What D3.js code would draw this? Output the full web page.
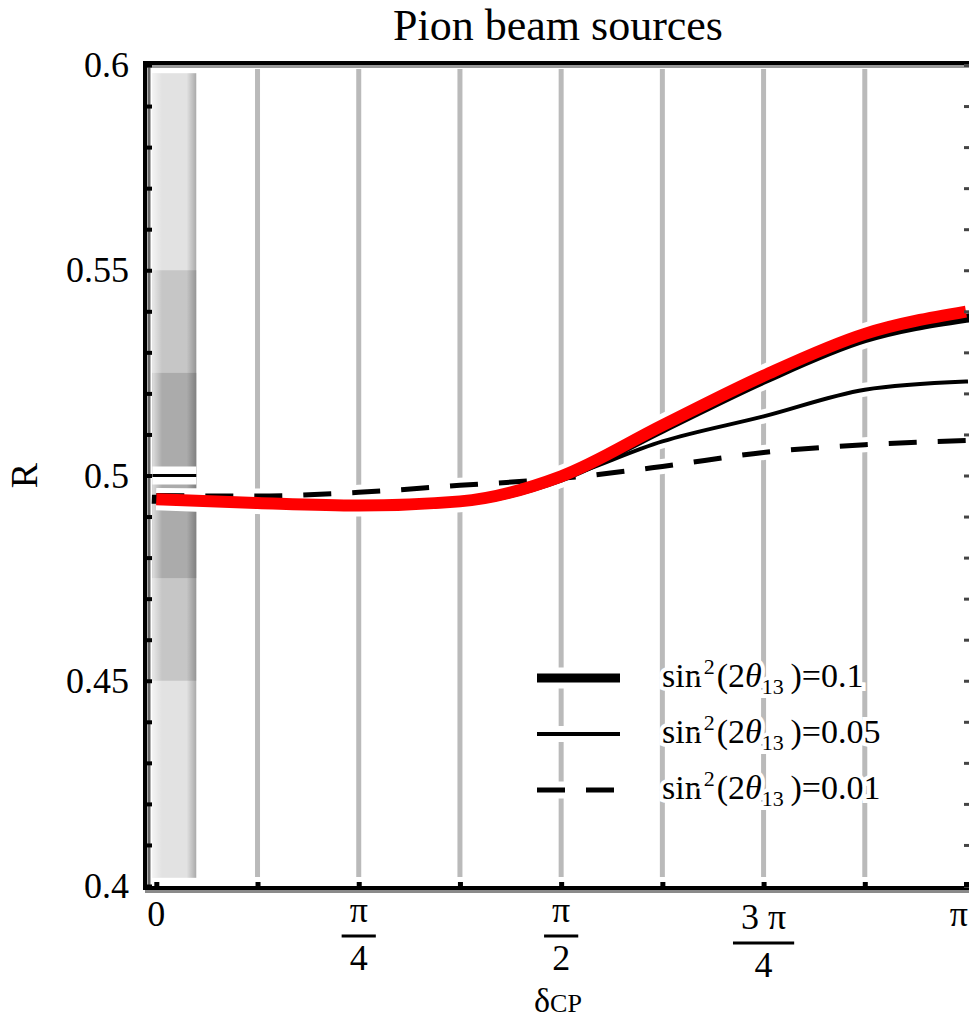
<!DOCTYPE html>
<html>
<head>
<meta charset="utf-8">
<script src="https://d3js.org/d3.v7.min.js"></script>
<style>
    body { margin: 0; background: white; }
    text { font-family: "Liberation Serif", "Times New Roman", serif; fill: black; }
</style>
</head>
<body>
<svg id="chart" width="969" height="1021"></svg>

<script>
    // delta_CP sample points, in units of pi/8
    var steps = [0, 1, 2, 3, 4, 5, 6, 7, 8]

    // R at each step
    var rThick  = [0.4942, 0.4933, 0.4927, 0.4936, 0.4994, 0.5113, 0.5232, 0.5333, 0.5383]
    var rThin   = [0.4942, 0.4933, 0.4928, 0.4938, 0.4993, 0.5083, 0.5144, 0.5209, 0.5229]
    var rDashed = [0.4951, 0.4950, 0.4959, 0.4976, 0.4993, 0.5022, 0.5056, 0.5075, 0.5085]
    var rRed    = [0.4942, 0.4933, 0.4927, 0.4937, 0.4998, 0.5122, 0.5243, 0.5345, 0.5399]

    var legendValues = ["0.1", "0.05", "0.01"]

    // measured band at delta = 0
    var bandRanges = [[0.402, 0.598], [0.45, 0.55], [0.475, 0.525]]
    var bandShades = ["#e2e2e2", "#c6c6c6", "#ababab"]
    var bandCenter = 0.5
    var bandDelta = [-0.015, 0.155]

    var rMajorTicks = [0.4, 0.45, 0.5, 0.55, 0.6]
    var rLabels = ["0.4", "0.45", "0.5", "0.55", "0.6"]
    var deltaTickSteps = [0, 1, 2, 3, 4, 5, 6, 7, 8]
    var deltaLabelSteps = [0, 2, 4, 6, 8]
    var deltaLabelNum = ["0", "π", "π", "3 π", "π"]
    var deltaLabelDen = [null, "4", "2", "4", null]

    var W = 969, H = 1021
    var margin = { top: 65, right: 3, bottom: 135, left: 146 }

    var svg = d3.select("#chart")

    var x = d3.scaleLinear()
        .domain([-0.04, Math.PI])
        .range([margin.left, W - margin.right])

    var y = d3.scaleLinear()
        .domain([0.4, 0.6])
        .range([H - margin.bottom, margin.top])

    var x0 = x.range()[0], x1 = x.range()[1]
    var y0 = y.range()[0], y1 = y.range()[1]

    var defs = svg.append("defs")
    var grad = defs.append("linearGradient").attr("id", "bandShade")
        .attr("x1", 0).attr("x2", 1).attr("y1", 0).attr("y2", 0)
    grad.append("stop").attr("offset", "0%").attr("stop-color", "#fff").attr("stop-opacity", 0.6)
    grad.append("stop").attr("offset", "22%").attr("stop-color", "#fff").attr("stop-opacity", 0)
    grad.append("stop").attr("offset", "78%").attr("stop-color", "#000").attr("stop-opacity", 0)
    grad.append("stop").attr("offset", "100%").attr("stop-color", "#000").attr("stop-opacity", 0.25)

    // the band
    bandRanges.forEach(function(r, i) {
        svg.append("rect")
            .attr("x", x(bandDelta[0]))
            .attr("width", x(bandDelta[1]) - x(bandDelta[0]))
            .attr("y", y(r[1]))
            .attr("height", y(r[0]) - y(r[1]))
            .attr("fill", bandShades[i])
    })
    svg.append("rect")
        .attr("x", x(bandDelta[0]))
        .attr("width", x(bandDelta[1]) - x(bandDelta[0]))
        .attr("y", y(bandRanges[0][1]))
        .attr("height", y(bandRanges[0][0]) - y(bandRanges[0][1]))
        .attr("fill", "url(#bandShade)")

    // grid lines
    svg.append("g")
        .selectAll("line")
        .data(deltaTickSteps.slice(1, 8))
        .enter().append("line")
        .attr("x1", function(k) { return x(k * Math.PI / 8) })
        .attr("x2", function(k) { return x(k * Math.PI / 8) })
        .attr("y1", y1 + 4)
        .attr("y2", y0 - 9)
        .attr("stroke", "#bababa")
        .attr("stroke-width", 5)

    var series = [
        { values: rThick,  color: "black", width: 9, dash: null },
        { values: rThin,   color: "black", width: 4, dash: null },
        { values: rDashed, color: "black", width: 5, dash: "28,21" },
        { values: rRed,    color: "#ff0000", width: 12, dash: null }
    ]

    var line = d3.line()
        .x(function(d) { return x(d[0] * Math.PI / 8) })
        .y(function(d) { return y(d[1]) })
        .curve(d3.curveMonotoneX)

    // white halos first
    svg.append("line")
        .attr("x1", x(bandDelta[0])).attr("x2", x(bandDelta[1]))
        .attr("y1", y(bandCenter)).attr("y2", y(bandCenter))
        .attr("stroke", "white").attr("stroke-width", 18)
    series.forEach(function(s) {
        svg.append("path")
            .datum(steps.map(function(k, i) { return [k, s.values[i]] }))
            .attr("fill", "none")
            .attr("stroke", "white")
            .attr("stroke-width", s.width + 10)
            .attr("d", line)
    })

    svg.append("line")
        .attr("x1", x(bandDelta[0])).attr("x2", x(bandDelta[1]))
        .attr("y1", y(bandCenter)).attr("y2", y(bandCenter))
        .attr("stroke", "black").attr("stroke-width", 3)

    series.forEach(function(s) {
        svg.append("path")
            .datum(steps.map(function(k, i) { return [k, s.values[i]] }))
            .attr("fill", "none")
            .attr("stroke", s.color)
            .attr("stroke-width", s.width)
            .attr("stroke-dasharray", s.dash)
            .attr("stroke-linecap", s.color == "black" && !s.dash ? "square" : "butt")
            .attr("d", line)
    })

    // frame
    svg.append("line").attr("x1", x0 - 3).attr("x2", W).attr("y1", y1 - 2).attr("y2", y1 - 2)
        .attr("stroke", "black").attr("stroke-width", 4)
    svg.append("line").attr("x1", x0 + 1).attr("x2", W).attr("y1", y1 + 1.5).attr("y2", y1 + 1.5)
        .attr("stroke", "#999").attr("stroke-width", 3)
    svg.append("line").attr("x1", x0 - 1).attr("x2", x0 - 1).attr("y1", y1 - 4).attr("y2", y0 + 4)
        .attr("stroke", "black").attr("stroke-width", 4)
    svg.append("line").attr("x1", x0 + 3).attr("x2", x0 + 3).attr("y1", y1).attr("y2", y0)
        .attr("stroke", "#666").attr("stroke-width", 3)
    svg.append("line").attr("x1", x0 - 3).attr("x2", W).attr("y1", y0 + 2).attr("y2", y0 + 2)
        .attr("stroke", "black").attr("stroke-width", 4)
    svg.append("line").attr("x1", x0 - 1).attr("x2", W).attr("y1", y0 + 5.5).attr("y2", y0 + 5.5)
        .attr("stroke", "#8a8a8a").attr("stroke-width", 3)

    // ticks
    var rMinor = d3.range(0.4, 0.6001, 0.01)
    svg.append("g").attr("transform", "translate(" + (x0 + 1) + ",0)")
        .call(d3.axisRight(y).tickValues(rMinor).tickSize(5).tickFormat(""))
        .call(function(g) { g.select(".domain").remove() })
        .selectAll("line").attr("stroke-width", 4)
    svg.append("g").attr("transform", "translate(" + W + ",0)")
        .call(d3.axisLeft(y).tickValues(rMinor).tickSize(5).tickFormat(""))
        .call(function(g) { g.select(".domain").remove() })
        .selectAll("line").attr("stroke-width", 3).attr("stroke", "#444")
    svg.append("g").attr("transform", "translate(0," + (y0 + 1) + ")")
        .call(d3.axisTop(x).tickValues(deltaTickSteps.map(function(k) { return k * Math.PI / 8 }))
            .tickSize(5).tickFormat(""))
        .call(function(g) { g.select(".domain").remove() })
        .selectAll("line").attr("stroke-width", 5)

    // y labels
    svg.append("g")
        .selectAll("text")
        .data(rMajorTicks)
        .enter().append("text")
        .attr("x", x0 - 17)
        .attr("y", function(d) { return y(d) })
        .attr("dy", "0.34em")
        .attr("text-anchor", "end")
        .style("font-size", "36px")
        .text(function(d, i) { return rLabels[i] })

    // x labels
    deltaLabelSteps.forEach(function(k, i) {
        var cx = x(k * Math.PI / 8)
        var num = deltaLabelNum[i], den = deltaLabelDen[i]
        if (!den) {
            // keep the last label inside the picture
            var anchor = cx + 12 > W ? "end" : "middle"
            svg.append("text").attr("x", anchor == "end" ? W - 1 : cx).attr("y", y0 + 40)
                .attr("text-anchor", anchor).style("font-size", "36px").text(num)
            return
        }
        var nb = /\d/.test(num) ? y0 + 43 : y0 + 36
        var t = svg.append("text").attr("x", cx).attr("y", nb)
            .attr("text-anchor", "middle").style("font-size", "36px").text(num)
        var w = t.node().getComputedTextLength() + 16
        svg.append("line").attr("x1", cx - w / 2).attr("x2", cx + w / 2)
            .attr("y1", nb + 14).attr("y2", nb + 14)
            .attr("stroke", "black").attr("stroke-width", 3)
        svg.append("text").attr("x", cx).attr("y", nb + 48)
            .attr("text-anchor", "middle").style("font-size", "36px").text(den)
    })

    // axis titles
    var xt = svg.append("text")
        .attr("x", (x0 + x1) / 2 + 2)
        .attr("y", 1012)
        .attr("text-anchor", "middle")
        .style("font-size", "34px")
    xt.append("tspan").text("δ")
    xt.append("tspan").style("font-size", "26px").text("CP")

    svg.append("text")
        .attr("transform", "translate(37," + y(0.5) + ") rotate(-90)")
        .attr("text-anchor", "middle")
        .style("font-size", "38px")
        .text("R")

    svg.append("text")
        .attr("x", (x0 + x1) / 2 + 2)
        .attr("y", 40)
        .attr("text-anchor", "middle")
        .style("font-size", "44px")
        .text("Pion beam sources")

    // legend
    var legendX = 537, legendLen = 83, legendY = 678, legendGap = 56, textX = 662
    series.slice(0, 3).forEach(function(s, i) {
        var ly = legendY + i * legendGap
        svg.append("line").attr("x1", legendX).attr("x2", legendX + legendLen)
            .attr("y1", ly).attr("y2", ly)
            .attr("stroke", "white").attr("stroke-width", s.width + 12)
        svg.append("line").attr("x1", legendX).attr("x2", legendX + legendLen)
            .attr("y1", ly).attr("y2", ly)
            .attr("stroke", "black").attr("stroke-width", s.width)
            .attr("stroke-dasharray", s.dash)

        var t = svg.append("text")
            .attr("x", textX).attr("y", ly + 9)
            .style("font-size", "34px")
            .attr("stroke", "white").attr("stroke-width", 8)
            .attr("paint-order", "stroke")
        t.append("tspan").text("sin")
        t.append("tspan").attr("dx", 2).attr("dy", -13).style("font-size", "22px").text("2")
        t.append("tspan").attr("dx", 2).attr("dy", 13).text("(2")
        t.append("tspan").style("font-style", "italic").text("θ")
        t.append("tspan").attr("dy", 7).style("font-size", "22px").text("13")
        t.append("tspan").attr("dy", -7).text("\u2009)=" + legendValues[i])
    })
</script>
</body>
</html>
